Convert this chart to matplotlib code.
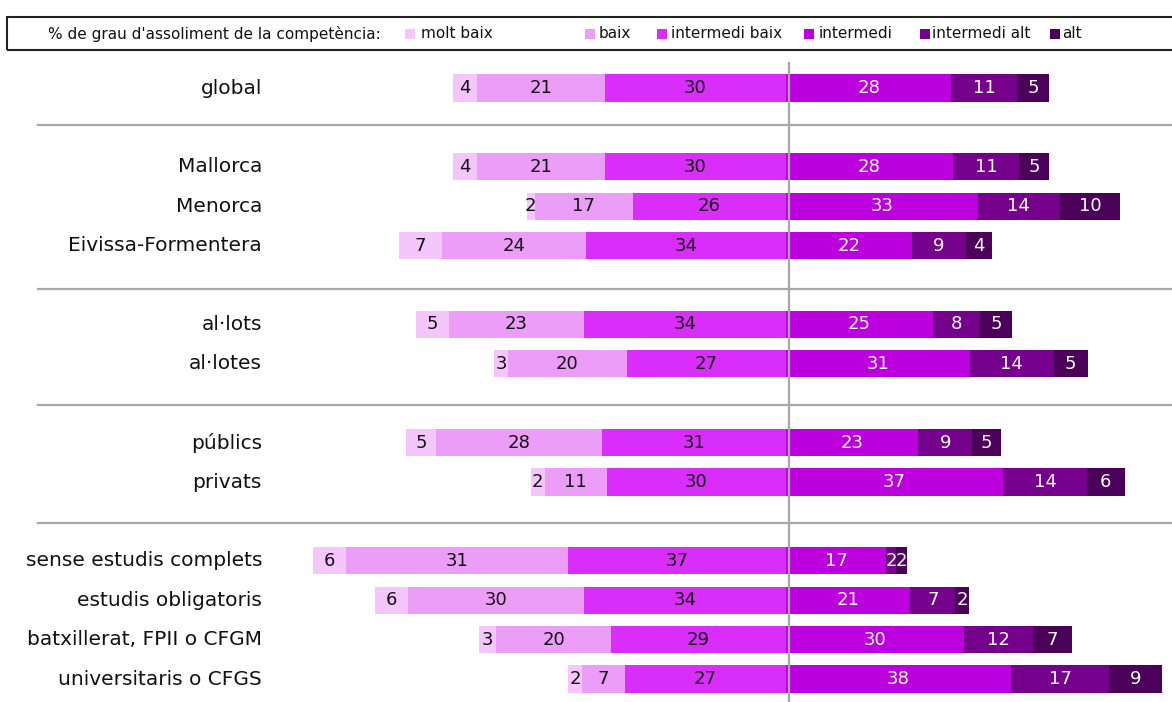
import numpy as np
import matplotlib
matplotlib.use('Agg')
import matplotlib.pyplot as plt
from matplotlib.patches import Rectangle
from matplotlib.transforms import blended_transform_factory

# Dades (llargada de les barres llegida del gràfic, i etiquetes impreses)
files = ['global', 'Mallorca', 'Menorca', 'Eivissa-Formentera', 'al·lots', 'al·lotes',
         'públics', 'privats', 'sense estudis complets', 'estudis obligatoris',
         'batxillerat, FPII o CFGM', 'universitaris o CFGS']
posicions = [0, 2, 3, 4, 6, 7, 9, 10, 12, 13, 14, 15]
separadors = [0.94, 5.10, 8.05, 11.04]

categories = ['molt baix', 'baix', 'intermedi baix', 'intermedi', 'intermedi alt', 'alt']
colors = ['#F5C6FB', '#EC9DF8', '#D92EFA', '#BB00DD', '#75008C', '#4B005A']

molt_baix = [4.0, 4.0, 1.3, 7.1, 5.5, 2.3, 5.0, 2.3, 5.5, 5.5, 2.8, 2.3]
baix = [21.2, 21.2, 16.3, 23.9, 22.4, 19.7, 27.5, 10.3, 36.8, 29.2, 19.1, 7.1]
intermedi_baix = [30.0, 30.0, 25.4, 33.2, 33.5, 26.4, 30.5, 29.7, 36.1, 33.5, 29.0, 26.7]
intermedi = [27.4, 27.7, 31.8, 20.9, 24.4, 30.5, 21.9, 36.0, 16.6, 20.6, 29.5, 37.3]
intermedi_alt = [10.9, 10.9, 13.6, 8.9, 7.8, 13.9, 9.0, 13.9, 1.7, 7.5, 11.4, 16.3]
alt = [5.3, 5.0, 10.0, 4.4, 5.3, 5.6, 4.8, 6.3, 1.8, 2.3, 6.6, 8.8]

et_molt_baix = [4, 4, 2, 7, 5, 3, 5, 2, 6, 6, 3, 2]
et_baix = [21, 21, 17, 24, 23, 20, 28, 11, 31, 30, 20, 7]
et_intermedi_baix = [30, 30, 26, 34, 34, 27, 31, 30, 37, 34, 29, 27]
et_intermedi = [28, 28, 33, 22, 25, 31, 23, 37, 17, 21, 30, 38]
et_intermedi_alt = [11, 11, 14, 9, 8, 14, 9, 14, 2, 7, 12, 17]
et_alt = [5, 5, 10, 4, 5, 5, 5, 6, 2, 2, 7, 9]

W, H = 1172, 702
px_unit = 6.03
zero_px = 786
fila_px = 39.4
top_px = 88

fig = plt.figure(figsize=(W / 100, H / 100), dpi=100)
ax = fig.add_axes([0, 0, 1, 1])
ax.set_xlim(-zero_px / px_unit, (W - zero_px) / px_unit)
ax.set_ylim((H - top_px) / fila_px, -top_px / fila_px)
ax.axis('off')

valors = [molt_baix, baix, intermedi_baix, intermedi, intermedi_alt, alt]
etiquetes = [et_molt_baix, et_baix, et_intermedi_baix, et_intermedi, et_intermedi_alt, et_alt]

# costat esquerre: s'apila cap a l'esquerra des de zero
mb = np.array(molt_baix)
b = np.array(baix)
ib = np.array(intermedi_baix)
lefts = [-(ib + b + mb), -(ib + b), -ib]
# costat dret
i = np.array(intermedi)
ia = np.array(intermedi_alt)
a = np.array(alt)
lefts += [np.zeros(len(i)), i, i + ia]

alt_barra = 0.69
for k in range(6):
    w = np.array(valors[k])
    ax.barh(posicions, w, left=lefts[k], height=alt_barra, color=colors[k], linewidth=0)
    txt_color = '#111111' if k < 3 else 'white'
    for j in range(len(posicions)):
        ax.text(lefts[k][j] + w[j] / 2, posicions[j], str(etiquetes[k][j]),
                ha='center', va='center', fontsize=13, color=txt_color)

# línies
for s in separadors:
    ax.axhline(s, xmin=38 / W, xmax=1, color='#A6A6A6', lw=1.6)
ax.axvline((788.5 - zero_px) / px_unit, ymin=0, ymax=1 - 63 / H, color='#A6A6A6', lw=1.6)

# etiquetes de files
trans = blended_transform_factory(ax.transAxes, ax.transData)
for j in range(len(files)):
    ax.text(262 / W, posicions[j], files[j], transform=trans, ha='right', va='center',
            fontsize=14.5, color='#111111')

# llegenda
def fx(px):
    return px / W

def fy(py):
    return 1 - py / H

fig.add_artist(Rectangle((fx(7), fy(50)), fx(1200) - fx(7), fy(17) - fy(50),
                         transform=fig.transFigure, fill=False, edgecolor='#222222', lw=1.5))
fig.text(fx(48), fy(34), "% de grau d'assoliment de la competència:", ha='left', va='center',
         fontsize=11, color='#111111')
caixa_x = [405, 585, 657, 804, 920, 1050]
text_x = [421, 599, 671, 819, 932, 1062]
for k in range(6):
    fig.add_artist(Rectangle((fx(caixa_x[k]), fy(39)), fx(10), fy(29) - fy(39),
                             transform=fig.transFigure, color=colors[k], lw=0))
    fig.text(fx(text_x[k]), fy(34), categories[k], ha='left', va='center',
             fontsize=11, color='#111111')

plt.savefig('out.png', dpi=100)
